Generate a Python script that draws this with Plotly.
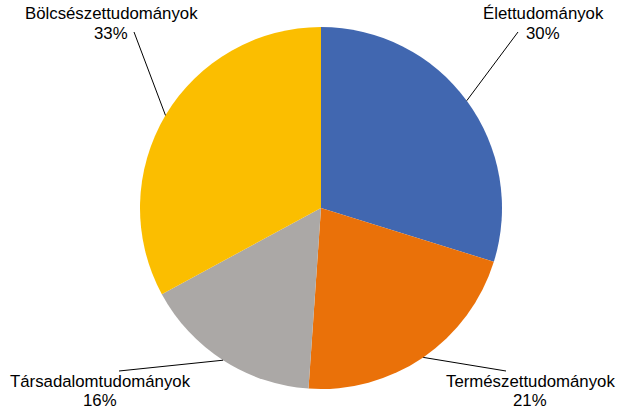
import math
import plotly.graph_objects as go

categories = ["Élettudományok", "Természettudományok", "Társadalomtudományok", "Bölcsészettudományok"]
values = [29.8, 21.3, 16.0, 32.9]
colors = ["#4167B0", "#EA7109", "#ABA8A6", "#FBBE00"]

# label placement (pixels) and leader-line outer ends (pixels)
label_pos = [(543, 14), (530, 381), (100, 381), (111, 14)]
line_outer = [(518, 32), (506, 371), (119, 371), (134, 32)]

W, H = 620, 415
ML, MR, MT, MB = 140, 118, 27, 26
PW, PH = W - ML - MR, H - MT - MB
cx, cy = ML + PW / 2, MT + PH / 2
R = min(PW, PH) / 2


def px2paper(px, py):
    return (px - ML) / PW, (H - MB - py) / PH


fig = go.Figure(go.Pie(
    labels=categories, values=values, sort=False, direction="clockwise",
    rotation=0, marker=dict(colors=colors, line=dict(width=0)),
    textinfo="none", hoverinfo="label+percent", showlegend=False,
))

total = sum(values)
cum = 0
annotations = []
shapes = []
font = dict(family="Liberation Sans, Arial, sans-serif", size=16.8, color="#000000")
for i, (cat, v) in enumerate(zip(categories, values)):
    mid = (cum + v / 2) / total * 2 * math.pi
    cum += v
    ex = cx + R * math.sin(mid)
    ey = cy - R * math.cos(mid)
    ox, oy = line_outer[i]
    x0, y0 = px2paper(ex, ey)
    x1, y1 = px2paper(ox, oy)
    shapes.append(dict(type="line", xref="paper", yref="paper", x0=x0, y0=y0, x1=x1, y1=y1,
                       line=dict(color="#000000", width=1)))
    lx, ly = label_pos[i]
    ax_, ay_ = px2paper(lx, ly)
    ax2, ay2 = px2paper(lx, ly + 19.5)
    pct = f"{round(v / total * 100)}%"
    annotations.append(dict(text=cat, x=ax_, y=ay_, xref="paper", yref="paper", borderpad=0,
                            showarrow=False, font=font, xanchor="center", yanchor="middle"))
    annotations.append(dict(text=pct, x=ax2, y=ay2, xref="paper", yref="paper", borderpad=0,
                            showarrow=False, font=font, xanchor="center", yanchor="middle"))

fig.update_layout(
    width=W, height=H,
    margin=dict(l=ML, r=MR, t=MT, b=MB),
    paper_bgcolor="white", plot_bgcolor="white",
    annotations=annotations, shapes=shapes,
)

fig.write_html("out.html", config={"displayModeBar": False},
               post_script="document.body.style.margin='0';document.body.style.overflow='hidden';")
